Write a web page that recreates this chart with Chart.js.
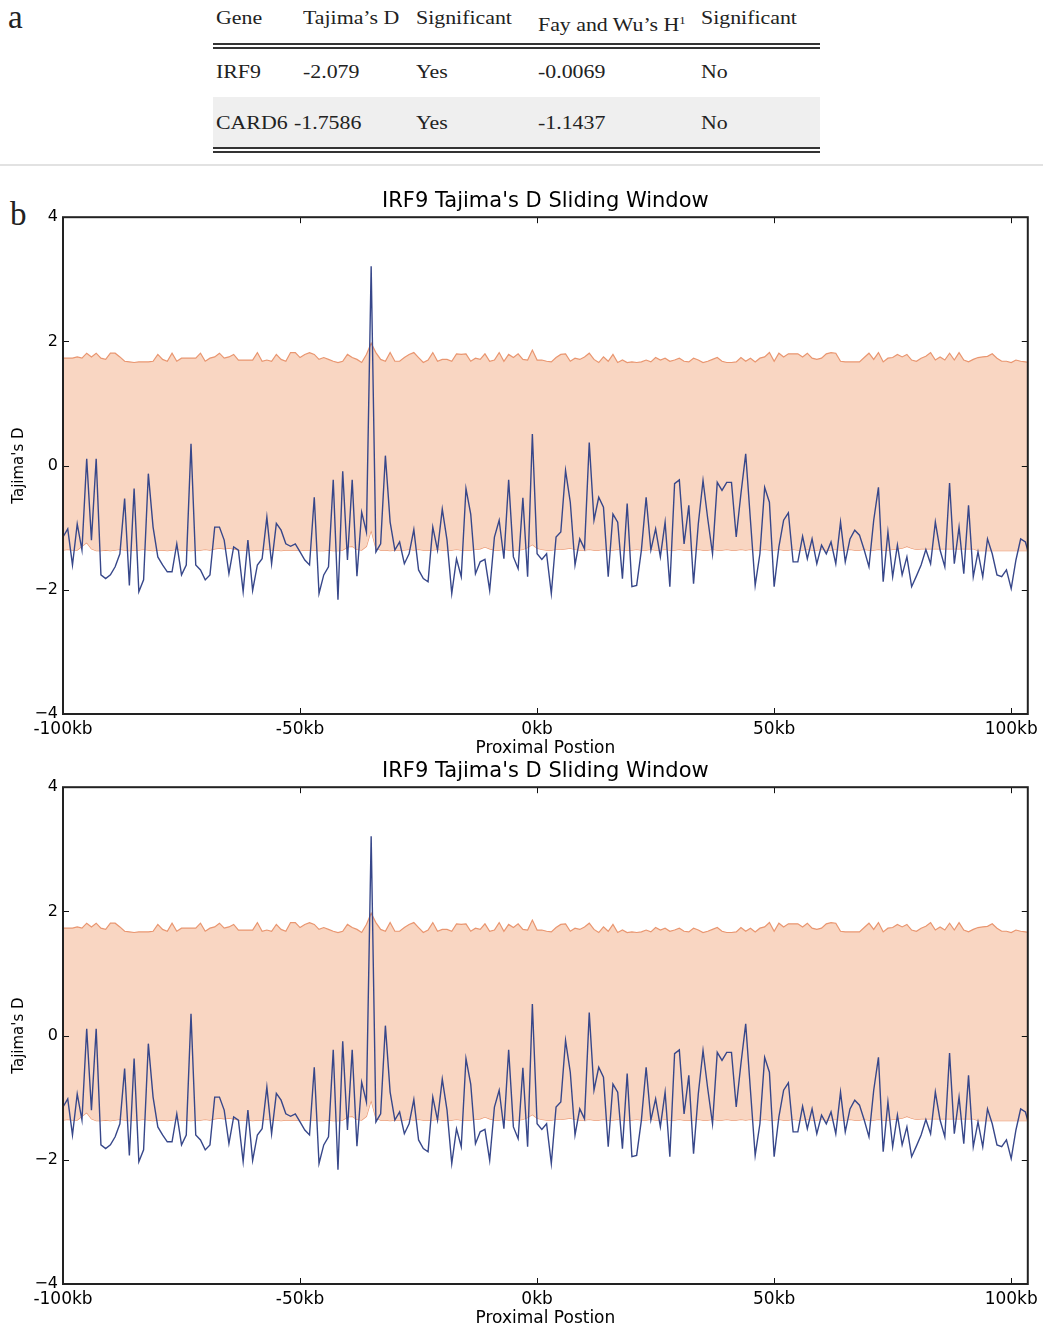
<!DOCTYPE html>
<html>
<head>
<meta charset="utf-8">
<script src="https://cdn.jsdelivr.net/npm/chart.js@4.4.1/dist/chart.umd.min.js"></script>
<style>
    body { margin: 0; background: #fff; width: 1043px; height: 1329px; position: relative; overflow: hidden; }
    .serif { position: absolute; font-family: "Liberation Serif", "DejaVu Serif", serif; color: #222; white-space: nowrap; }
    .cell { font-size: 19px; line-height: 19px; transform: scaleX(1.15); transform-origin: left center; }
    .panel { font-size: 33px; line-height: 33px; }
    .rule { position: absolute; left: 213px; width: 607px; height: 2px; background: #333; }
    canvas { position: absolute; left: 0; }
</style>
</head>
<body>

<div class="serif panel" style="left:8px; top:1px;">a</div>
<div class="serif panel" style="left:10px; top:198px;">b</div>

<div style="position:absolute; left:213px; top:97px; width:607px; height:50px; background:#efefef;"></div>
<div class="rule" style="top:43px;"></div>
<div class="rule" style="top:47px;"></div>
<div class="rule" style="top:147px;"></div>
<div class="rule" style="top:151px;"></div>
<div style="position:absolute; left:0; top:164px; width:1043px; height:2px; background:#e2e2e2;"></div>

<canvas id="chartTop" width="1043" height="574" style="top:185px;"></canvas>
<canvas id="chartBottom" width="1043" height="570" style="top:759px;"></canvas>

<script>
// table (panel a)
const tableHeader = ["Gene", "Tajima\u2019s D", "Significant", "Fay and Wu\u2019s H<sup style=\"font-size:11px\">1</sup>", "Significant"];
const tableRows = [
    ["IRF9", "-2.079", "Yes", "-0.0069", "No"],
    ["CARD6", "-1.7586", "Yes", "-1.1437", "No"]
];

// sliding window positions (kb) and values (panel b)
const positionsKb = [
    -100, -99, -98, -97, -96, -95, -94, -93, -92, -91, -90, -89, -88, -87, -86, -85, -84, -83, -82, -81,
    -80, -79, -78, -77, -76, -75, -74, -73, -72, -71, -70, -69, -68, -67, -66, -65, -64, -63, -62, -61,
    -60, -59, -58, -57, -56, -55, -54, -53, -52, -51, -50, -49, -48, -47, -46, -45, -44, -43, -42, -41,
    -40, -39, -38, -37, -36, -35, -34, -33, -32, -31, -30, -29, -28, -27, -26, -25, -24, -23, -22, -21,
    -20, -19, -18, -17, -16, -15, -14, -13, -12, -11, -10, -9, -8, -7, -6, -5, -4, -3, -2, -1,
    0, 1, 2, 3, 4, 5, 6, 7, 8, 9, 10, 11, 12, 13, 14, 15, 16, 17, 18, 19,
    20, 21, 22, 23, 24, 25, 26, 27, 28, 29, 30, 31, 32, 33, 34, 35, 36, 37, 38, 39,
    40, 41, 42, 43, 44, 45, 46, 47, 48, 49, 50, 51, 52, 53, 54, 55, 56, 57, 58, 59,
    60, 61, 62, 63, 64, 65, 66, 67, 68, 69, 70, 71, 72, 73, 74, 75, 76, 77, 78, 79,
    80, 81, 82, 83, 84, 85, 86, 87, 88, 89, 90, 91, 92, 93, 94, 95, 96, 97, 98, 99,
    100, 101, 102, 103, 104
];

const tajimaD = [
    -1.15, -1.02, -1.60, -0.94, -1.36, 0.11, -1.20, 0.11, -1.76, -1.82, -1.76, -1.63, -1.42, -0.53, -1.93, -0.37, -2.03, -1.84, -0.13, -0.99,
    -1.47, -1.60, -1.71, -1.71, -1.26, -1.76, -1.60, 0.35, -1.60, -1.68, -1.84, -1.76, -0.99, -0.99, -1.20, -1.74, -1.31, -1.36, -2.03, -1.20,
    -2.01, -1.60, -1.50, -0.83, -1.58, -0.93, -1.04, -1.26, -1.30, -1.26, -1.39, -1.52, -1.60, -0.51, -2.06, -1.76, -1.63, -0.23, -2.16, -0.09,
    -1.52, -0.23, -1.78, -0.75, -1.07, 3.21, -1.39, -1.26, 0.16, -0.91, -1.36, -1.23, -1.58, -1.42, -1.03, -1.68, -1.82, -1.87, -0.99, -1.36,
    -0.70, -1.20, -2.06, -1.50, -1.79, -0.37, -0.78, -1.74, -1.55, -1.51, -2.01, -1.15, -0.88, -1.50, -0.23, -1.47, -1.66, -0.52, -1.79, 0.51,
    -1.42, -1.51, -1.42, -2.06, -1.15, -1.07, -0.08, -0.59, -1.60, -1.18, -1.34, 0.37, -0.88, -0.51, -0.67, -1.79, -0.78, -0.91, -1.82, -0.61,
    -1.95, -1.93, -1.36, -0.51, -1.36, -1.02, -1.47, -0.91, -1.95, -0.29, -0.23, -1.26, -0.64, -1.90, -0.94, -0.24, -0.86, -1.42, -0.27, -0.40,
    -0.27, -0.27, -1.15, -0.45, 0.19, -0.88, -1.93, -1.42, -0.35, -0.59, -1.95, -1.31, -0.88, -0.76, -1.55, -1.55, -1.14, -1.50, -1.18, -1.58,
    -1.28, -1.42, -1.23, -1.58, -0.91, -1.55, -1.18, -1.04, -1.12, -1.36, -1.63, -0.88, -0.35, -1.87, -1.07, -1.79, -1.28, -1.76, -1.47, -1.95,
    -1.78, -1.60, -1.35, -1.58, -0.91, -1.36, -1.63, -0.28, -1.58, -0.99, -1.74, -0.64, -1.79, -1.39, -1.79, -1.18, -1.42, -1.76, -1.79, -1.68,
    -1.98, -1.52, -1.18, -1.23, -1.50
];

const upperBound = [
    1.73, 1.73, 1.73, 1.75, 1.73, 1.81, 1.75, 1.81, 1.73, 1.71, 1.81, 1.81, 1.75, 1.68, 1.67, 1.66, 1.67, 1.67, 1.67, 1.68,
    1.79, 1.71, 1.68, 1.81, 1.68, 1.73, 1.73, 1.73, 1.73, 1.81, 1.68, 1.73, 1.75, 1.81, 1.73, 1.75, 1.79, 1.70, 1.70, 1.70,
    1.70, 1.82, 1.68, 1.70, 1.68, 1.79, 1.71, 1.68, 1.82, 1.82, 1.74, 1.79, 1.82, 1.79, 1.71, 1.74, 1.71, 1.68, 1.66, 1.68,
    1.79, 1.74, 1.71, 1.66, 1.79, 1.97, 1.82, 1.71, 1.68, 1.82, 1.68, 1.68, 1.74, 1.79, 1.82, 1.74, 1.66, 1.70, 1.82, 1.68,
    1.71, 1.71, 1.68, 1.80, 1.79, 1.80, 1.68, 1.73, 1.71, 1.80, 1.68, 1.70, 1.82, 1.68, 1.79, 1.74, 1.80, 1.71, 1.70, 1.86,
    1.70, 1.70, 1.68, 1.67, 1.74, 1.79, 1.80, 1.68, 1.73, 1.71, 1.75, 1.81, 1.71, 1.66, 1.75, 1.68, 1.79, 1.66, 1.70, 1.66,
    1.67, 1.66, 1.67, 1.70, 1.67, 1.74, 1.70, 1.73, 1.68, 1.70, 1.73, 1.68, 1.67, 1.73, 1.70, 1.66, 1.68, 1.71, 1.74, 1.68,
    1.66, 1.66, 1.67, 1.74, 1.68, 1.73, 1.67, 1.73, 1.75, 1.82, 1.68, 1.81, 1.75, 1.80, 1.80, 1.80, 1.75, 1.81, 1.73, 1.71,
    1.73, 1.80, 1.82, 1.81, 1.68, 1.67, 1.67, 1.67, 1.67, 1.74, 1.81, 1.71, 1.82, 1.67, 1.73, 1.74, 1.79, 1.75, 1.79, 1.70,
    1.68, 1.73, 1.76, 1.82, 1.70, 1.75, 1.70, 1.81, 1.70, 1.82, 1.70, 1.67, 1.71, 1.74, 1.75, 1.76, 1.80, 1.73, 1.68, 1.68,
    1.66, 1.70, 1.68, 1.67, 1.66
];

const lowerBound = [
    -1.36, -1.35, -1.36, -1.36, -1.30, -1.24, -1.34, -1.37, -1.37, -1.36, -1.37, -1.36, -1.35, -1.36, -1.37, -1.36, -1.36, -1.35, -1.36, -1.37,
    -1.36, -1.36, -1.37, -1.36, -1.35, -1.36, -1.36, -1.37, -1.36, -1.36, -1.35, -1.36, -1.34, -1.33, -1.34, -1.33, -1.34, -1.36, -1.36, -1.36,
    -1.37, -1.36, -1.36, -1.35, -1.36, -1.36, -1.37, -1.36, -1.36, -1.36, -1.37, -1.36, -1.36, -1.36, -1.37, -1.37, -1.36, -1.37, -1.37, -1.36,
    -1.31, -1.30, -1.35, -1.36, -1.30, -1.04, -1.33, -1.36, -1.36, -1.37, -1.36, -1.36, -1.36, -1.35, -1.36, -1.35, -1.36, -1.36, -1.36, -1.35,
    -1.36, -1.36, -1.36, -1.35, -1.36, -1.36, -1.36, -1.35, -1.34, -1.31, -1.34, -1.36, -1.36, -1.35, -1.36, -1.36, -1.36, -1.35, -1.32, -1.27,
    -1.33, -1.35, -1.36, -1.36, -1.35, -1.35, -1.34, -1.33, -1.35, -1.36, -1.36, -1.35, -1.36, -1.36, -1.35, -1.36, -1.36, -1.35, -1.36, -1.36,
    -1.36, -1.35, -1.36, -1.36, -1.35, -1.36, -1.36, -1.35, -1.36, -1.36, -1.35, -1.36, -1.36, -1.36, -1.35, -1.36, -1.36, -1.35, -1.36, -1.36,
    -1.35, -1.36, -1.36, -1.35, -1.36, -1.35, -1.36, -1.36, -1.35, -1.36, -1.36, -1.35, -1.36, -1.36, -1.35, -1.36, -1.36, -1.35, -1.36, -1.36,
    -1.35, -1.36, -1.36, -1.35, -1.36, -1.36, -1.35, -1.36, -1.36, -1.35, -1.36, -1.36, -1.35, -1.36, -1.36, -1.35, -1.34, -1.33, -1.30, -1.33,
    -1.35, -1.34, -1.34, -1.34, -1.34, -1.34, -1.34, -1.34, -1.34, -1.34, -1.34, -1.34, -1.34, -1.37, -1.37, -1.37, -1.37, -1.37, -1.37, -1.37,
    -1.37, -1.37, -1.37, -1.37, -1.37
];

const chartTitle = "IRF9 Tajima's D Sliding Window";
const xTitle = "Proximal Postion";
const yTitle = "Tajima's D";
const xTickValues = [-100, -50, 0, 50, 100];
const yTickValues = [-4, -2, 0, 2, 4];

const tableCols = [216, 303, 416, 538, 701];

function placeText(text, left, centerY) {
    const div = document.createElement("div");
    div.className = "serif cell";
    div.style.left = left + "px";
    div.style.top = (centerY - 10) + "px";
    div.innerHTML = text;
    document.body.appendChild(div);
    return div;
}

tableHeader.forEach((h, i) => placeText(h, tableCols[i], i === 3 ? 21 : 18));
tableRows.forEach((row, r) => {
    row.forEach((v, i) => {
        let left = tableCols[i];
        if (r === 1 && i === 1) left = 294; // CARD6 is wide, value sits closer
        placeText(v, left, r === 0 ? 72 : 123);
    });
});

// matplotlib-style frame with inward ticks on all four sides
const framePlugin = {
    id: "frame",
    afterDraw(chart) {
        const ctx = chart.ctx;
        const area = chart.chartArea;
        const xs = chart.scales.x;
        const ys = chart.scales.y;
        ctx.save();
        ctx.strokeStyle = "#111";
        ctx.lineWidth = 1;
        for (let v of xTickValues) {
            const px = Math.round(xs.getPixelForValue(v)) + 0.5;
            ctx.beginPath();
            ctx.moveTo(px, area.bottom);
            ctx.lineTo(px, area.bottom - 6);
            ctx.moveTo(px, area.top);
            ctx.lineTo(px, area.top + 6);
            ctx.stroke();
        }
        for (let v of yTickValues) {
            const py = Math.round(ys.getPixelForValue(v)) + 0.5;
            ctx.beginPath();
            ctx.moveTo(area.left, py);
            ctx.lineTo(area.left + 6, py);
            ctx.moveTo(area.right, py);
            ctx.lineTo(area.right - 6, py);
            ctx.stroke();
        }
        ctx.lineWidth = 2;
        ctx.strokeStyle = "#222";
        ctx.strokeRect(area.left, area.top, area.right - area.left, area.bottom - area.top);
        ctx.restore();
    }
};

function toPoints(values) {
    return values.map((v, i) => ({ x: positionsKb[i], y: v }));
}

function makeChart(canvasId, titlePadding) {
    const ctx = document.getElementById(canvasId).getContext("2d");
    return new Chart(ctx, {
        type: "line",
        data: {
            datasets: [
                {
                    label: "Tajima's D",
                    data: toPoints(tajimaD),
                    borderColor: "#37478a",
                    borderWidth: 1.4,
                    pointRadius: 0,
                    tension: 0,
                    fill: false
                },
                {
                    label: "upper",
                    data: toPoints(upperBound),
                    borderColor: "#e99670",
                    backgroundColor: "#f9d6c2",
                    borderWidth: 1.2,
                    pointRadius: 0,
                    tension: 0,
                    fill: "+1"
                },
                {
                    label: "lower",
                    data: toPoints(lowerBound),
                    borderColor: "#e99670",
                    borderWidth: 1.2,
                    pointRadius: 0,
                    tension: 0,
                    fill: false
                }
            ]
        },
        options: {
            responsive: false,
            animation: false,
            devicePixelRatio: 1,
            layout: { padding: { left: 0, right: 15, top: 0, bottom: 0 } },
            plugins: {
                legend: { display: false },
                tooltip: { enabled: false },
                title: {
                    display: true,
                    fullSize: false,
                    text: chartTitle,
                    color: "#000",
                    font: { family: "DejaVu Sans", size: 21, weight: "normal" },
                    padding: titlePadding
                }
            },
            scales: {
                x: {
                    type: "linear",
                    min: -100,
                    max: 103.5,
                    afterBuildTicks: (scale) => { scale.ticks = xTickValues.map(v => ({ value: v })); },
                    afterFit: (scale) => { scale.height = 45; },
                    grid: { display: false, drawTicks: false },
                    border: { display: false },
                    ticks: {
                        color: "#000",
                        padding: 5,
                        maxRotation: 0,
                        autoSkip: false,
                        font: { family: "DejaVu Sans", size: 17 },
                        callback: (v) => v + "kb"
                    },
                    title: {
                        display: true,
                        text: xTitle,
                        color: "#000",
                        font: { family: "DejaVu Sans", size: 17 },
                        padding: { top: 0, bottom: 0 }
                    }
                },
                y: {
                    min: -4,
                    max: 4,
                    afterBuildTicks: (scale) => { scale.ticks = yTickValues.map(v => ({ value: v })); },
                    afterFit: (scale) => { scale.width = 63; },
                    grid: { display: false, drawTicks: false },
                    border: { display: false },
                    ticks: {
                        color: "#000",
                        padding: 5,
                        font: { family: "DejaVu Sans", size: 16 },
                        callback: (v) => (v < 0 ? "\u2212" + Math.abs(v) : "" + v)
                    },
                    title: {
                        display: true,
                        text: yTitle,
                        color: "#000",
                        font: { family: "DejaVu Sans", size: 15 },
                        padding: { top: 10, bottom: 0 }
                    }
                }
            }
        },
        plugins: [framePlugin]
    });
}

const chartTop = makeChart("chartTop", { top: 4, bottom: 3 });
const chartBottom = makeChart("chartBottom", { top: 0, bottom: 3 });
</script>
</body>
</html>
